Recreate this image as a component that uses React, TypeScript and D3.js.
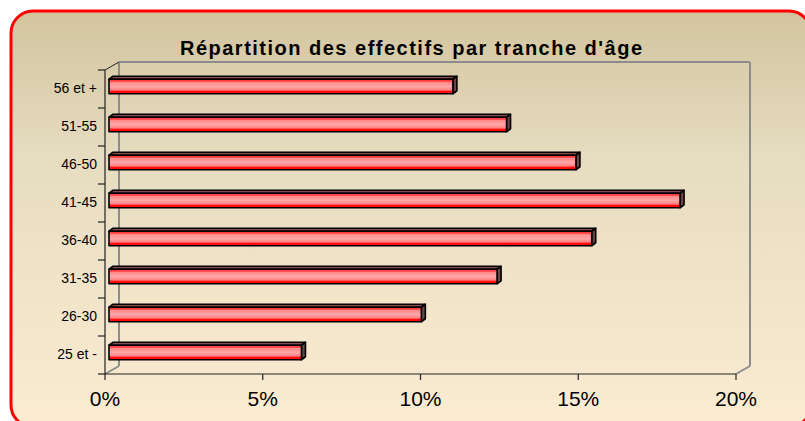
import React from "react";
import * as d3 from "d3";

const categories = ["56 et +", "51-55", "46-50", "41-45", "36-40", "31-35", "26-30", "25 et -"];
const values = [10.9, 12.6, 14.8, 18.1, 15.3, 12.3, 9.9, 6.1];
const xTicks = [0, 5, 10, 15, 20];
const title = "Répartition des effectifs par tranche d'âge";

const W = 805;
const H = 421;
const FONT = "'Liberation Sans', Arial, sans-serif";

export default function App() {
  const x0 = 105, x1 = 736, yTop = 70, yBot = 374;
  const depthX = 14, depthY = 8;
  const x = d3.scaleLinear().domain([0, 20]).range([x0, x1]);
  const y = d3.scaleBand<string>().domain(categories).range([yTop, yBot]);
  const bdx = 4, bdy = 3; // bar offset & bar depth
  const barH = 14.5;

  return (
    <svg width={W} height={H} style={{ position: "absolute", left: 0, top: 0 }}>
      <defs>
        <linearGradient id="bg" x1="0" y1="0" x2="0" y2="1">
          <stop offset="0" stopColor="#d2c49e" />
          <stop offset="0.35" stopColor="#e6dcc0" />
          <stop offset="1" stopColor="#fbecd2" />
        </linearGradient>
        <linearGradient id="barFront" x1="0" y1="0" x2="0" y2="1">
          <stop offset="0" stopColor="#ff3030" />
          <stop offset="0.15" stopColor="#ff4848" />
          <stop offset="0.2" stopColor="#ff8a8a" />
          <stop offset="0.5" stopColor="#ffa6a6" />
          <stop offset="0.75" stopColor="#ff8080" />
          <stop offset="0.82" stopColor="#ff1010" />
          <stop offset="1" stopColor="#ff0000" />
        </linearGradient>
      </defs>
      <rect x={0} y={0} width={W} height={H} fill="#ffffff" />
      <rect x={11} y={11} width={800} height={416} rx={22} ry={22} fill="url(#bg)" stroke="#ff0000" strokeWidth={3} />

      <text x={411} y={55} textAnchor="middle" fontFamily={FONT} fontWeight="bold" fontSize={20} fill="#000"
        textLength={462} lengthAdjust="spacing">{title}</text>

      {/* back walls */}
      <g stroke="#8c8c8c" strokeWidth={2} fill="none">
        <line x1={x0 + depthX} y1={yTop - depthY} x2={x1 + depthX} y2={yTop - depthY} />
        <line x1={x1 + depthX} y1={yTop - depthY} x2={x1 + depthX} y2={yBot - depthY} />
        <line x1={x0 + depthX} y1={yTop - depthY} x2={x0 + depthX} y2={yBot - depthY} />
        <line x1={x0 + depthX} y1={yBot - depthY} x2={x0} y2={yBot} />
        <line x1={x1 + depthX} y1={yBot - depthY} x2={x1} y2={yBot} />
      </g>
      <line x1={x0} y1={yTop} x2={x0 + depthX} y2={yTop - depthY} stroke="#222" strokeWidth={1} />

      {/* bars */}
      {categories.map((c, i) => {
        const v = values[i];
        const cy = (y(c) as number) + y.bandwidth() / 2 - 2.5;
        const ft = cy - barH / 2;
        const fb = cy + barH / 2;
        const fl = x(0) + bdx;
        const fr = x(v) + bdx;
        return (
          <g key={c} stroke="#000" strokeWidth={1.6} strokeLinejoin="round">
            <polygon points={`${fl},${ft} ${fl + bdx},${ft - bdy} ${fr + bdx},${ft - bdy} ${fr},${ft}`} fill="#8a4a4a" />
            <polygon points={`${fr},${ft} ${fr + bdx},${ft - bdy} ${fr + bdx},${fb - bdy} ${fr},${fb}`} fill="#6e4444" />
            <rect x={fl} y={ft} width={fr - fl} height={barH} fill="url(#barFront)" />
          </g>
        );
      })}

      {/* front axes */}
      <line x1={x0} y1={yTop} x2={x0} y2={yBot} stroke="#222" strokeWidth={1.2} />
      <line x1={x0} y1={yBot} x2={x1} y2={yBot} stroke="#222" strokeWidth={1.2} />
      {d3.range(categories.length + 1).map((k) => {
        const yy = yTop + k * y.step();
        return <line key={k} x1={x0 - 7} y1={yy} x2={x0} y2={yy} stroke="#222" strokeWidth={1.2} />;
      })}
      {categories.map((c) => (
        <text key={c} x={97} y={(y(c) as number) + y.bandwidth() / 2} textAnchor="end" dominantBaseline="middle"
          fontFamily={FONT} fontSize={14} fill="#000">{c}</text>
      ))}
      {xTicks.map((t) => (
        <g key={t}>
          <line x1={x(t)} y1={yBot} x2={x(t)} y2={yBot + 6} stroke="#222" strokeWidth={1.2} />
          <text x={x(t)} y={406} textAnchor="middle" fontFamily={FONT} fontSize={21} fill="#000">{t}%</text>
        </g>
      ))}
    </svg>
  );
}
